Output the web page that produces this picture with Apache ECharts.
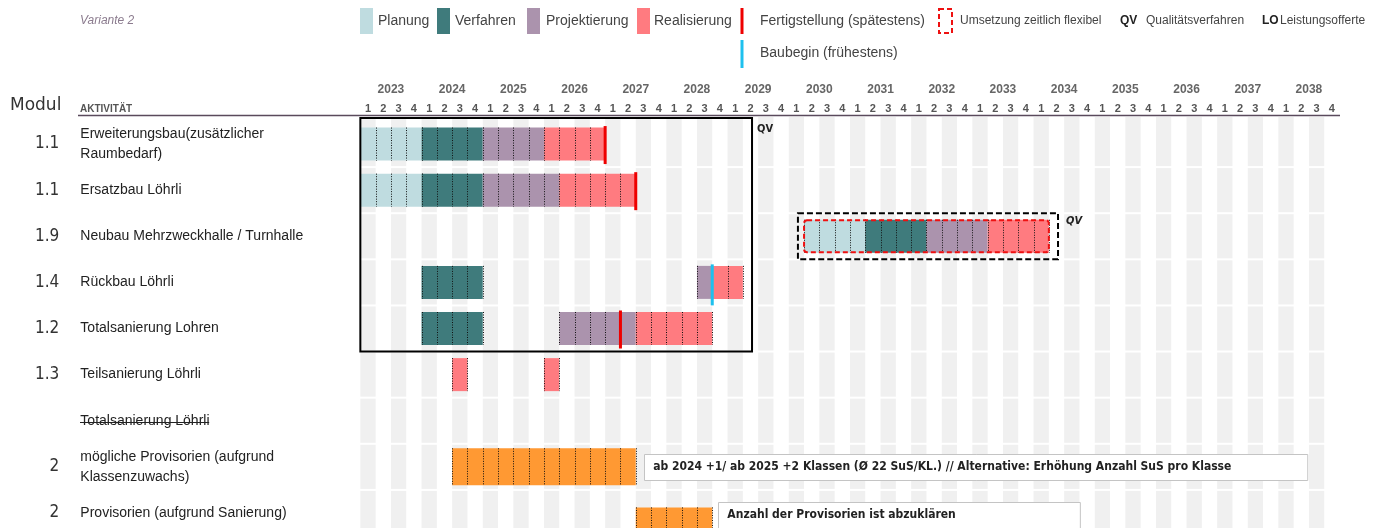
<!DOCTYPE html>
<html>
<head>
<meta charset="utf-8">
<script src="https://cdn.jsdelivr.net/npm/echarts@6/dist/echarts.min.js"></script>
<style>
html,body{margin:0;padding:0;background:#fff;overflow:hidden;}
/* etwas hoeher als das Fenster, damit die letzte Zeile wie im Original abgeschnitten wird */
#main{width:1386px;height:545px;}
</style>
</head>
<body>
<div id="main"></div>
<script>
/* Zeitachse */
var years = ['2023','2024','2025','2026','2027','2028','2029','2030','2031','2032','2033','2034','2035','2036','2037','2038'];
var quarterNames = ['1','2','3','4'];

/* Zeilen */
var modules = ['1.1','1.1','1.9','1.4','1.2','1.3','','2','2'];
var activities = [
    'Erweiterungsbau(zusätzlicher\nRaumbedarf)',
    'Ersatzbau Löhrli',
    'Neubau Mehrzweckhalle / Turnhalle',
    'Rückbau Löhrli',
    'Totalsanierung Lohren',
    'Teilsanierung Löhrli',
    'Totalsanierung Löhrli',
    'mögliche Provisorien (aufgrund\nKlassenzuwachs)',
    'Provisorien (aufgrund Sanierung)'
];
var struckRows = [6];

/* Phasen */
var phases = ['Planung','Verfahren','Projektierung','Realisierung','Provisorium'];

/* [zeile, phase, startquartal, anzahl quartale] */
var segments = [
    [0,0,0,4],[0,1,4,4],[0,2,8,4],[0,3,12,4],
    [1,0,0,4],[1,1,4,4],[1,2,8,5],[1,3,13,5],
    [2,0,29,4],[2,1,33,4],[2,2,37,4],[2,3,41,4],
    [3,1,4,4],[3,2,22,1],[3,3,23,2],
    [4,1,4,4],[4,2,13,5],[4,3,18,5],
    [5,3,6,1],[5,3,12,1],
    [7,4,6,12],
    [8,4,18,5]
];

/* [zeile, quartal, 0=Fertigstellung 1=Baubegin] */
var milestones = [[0,16,0],[1,18,0],[4,17,0],[3,23,1]];

/* Umsetzung zeitlich flexibel: [zeile, von, bis] */
var flexible = [[2,29,45]];

/* QV-Rahmen: [von, bis, zeile von, zeile bis, flexibel] */
var qvFrames = [[0,25.6,0,5,0],[28.6,45.6,2,3,1]];

/* Bemerkungen: [zeile, von, bis, text] */
var notes = [
    [7,18.55,61.9,'ab 2024 +1/ ab 2025 +2 Klassen (Ø 22 SuS/KL.) // Alternative: Erhöhung Anzahl SuS pro Klasse'],
    [8,23.4,47.05,'Anzahl der Provisorien ist abzuklären']
];

var colors = ['#bfdce0','#3f7b7c','#ab93ad','#ff7b80','#ff9933'];
var nQ = years.length * 4;
var quarterLabels = [];
years.forEach(function(){ quarterNames.forEach(function(q){ quarterLabels.push(q); }); });

// Hintergrund (graue Quartalsspalten)
var bgCells = [];
for (var r = 0; r < activities.length; r++) {
    for (var q = 0; q < nQ; q += 2) bgCells.push([q, r]);
}

function rowY(api, row) { return api.coord([0, row + 0.5])[1]; }
function qx(api, q) { return api.coord([q, 0])[0]; }

function renderBg(params, api) {
    var q = api.value(0), row = api.value(1);
    var y0 = api.coord([0, row])[1], y1 = api.coord([0, row + 1])[1];
    if (row === 0) y0 -= 5;
    var x0 = qx(api, q), x1 = qx(api, q + 1);
    return {type:'rect', shape:{x:x0, y:y0 + 1, width:x1 - x0, height:y1 - y0 - 2}, style:{fill:'#f0f0f0'}, silent:true};
}

function renderSeg(params, api) {
    var row = api.value(0), ph = api.value(1), s = api.value(2), n = api.value(3);
    var h = ph === 4 ? 37 : 33;
    var top = rowY(api, row) - h / 2 + (row === 8 ? 13 : 0);
    var x0 = qx(api, s), x1 = qx(api, s + n);
    var children = [{type:'rect', shape:{x:x0, y:top, width:x1 - x0, height:h}, style:{fill:colors[ph]}}];
    for (var k = 0; k <= n; k++) {
        var x = Math.round(qx(api, s + k)) + 0.5;
        children.push({type:'line', shape:{x1:x, y1:top, x2:x, y2:top + h}, style:{stroke:'#111', lineWidth:1, lineDash:[1,1.5]}});
    }
    return {type:'group', children:children};
}

function renderMilestone(params, api) {
    var row = api.value(0), q = api.value(1), t = api.value(2);
    var yc = rowY(api, row), x = qx(api, q);
    return {type:'line', shape:{x1:x, y1:yc - 18, x2:x, y2:yc + (t ? 23 : 20)},
        style:{stroke:t ? '#1ec0ee' : '#ee0000', lineWidth:3}};
}

function renderFlex(params, api) {
    var row = api.value(0), yc = rowY(api, row);
    var x0 = qx(api, api.value(1)), x1 = qx(api, api.value(2));
    return {type:'rect', shape:{x:x0, y:yc - 16, width:x1 - x0, height:32, r:3},
        style:{fill:null, stroke:'#ee1111', lineWidth:2, lineDash:[5,3]}};
}

function renderFrame(params, api) {
    var x0 = qx(api, api.value(0)), x1 = qx(api, api.value(1));
    var y0 = api.coord([0, api.value(2)])[1], y1 = api.coord([0, api.value(3)])[1];
    var flex = api.value(4);
    if (!flex) y0 -= 3;
    return {type:'group', children:[
        {type:'rect', shape:{x:x0, y:y0, width:x1 - x0, height:y1 - y0},
            style:{fill:null, stroke:'#000', lineWidth:2, lineDash:flex ? [6,3] : null}},
        {type:'text', style:{text:'QV', x:x1 + (flex ? 8 : 5), y:y0 + (flex ? 8 : 11), verticalAlign:'middle',
            fill:'#222', fontSize:11, fontWeight:'bold', fontStyle:flex ? 'italic' : 'normal',
            fontFamily:'"DejaVu Sans Condensed", sans-serif'}}
    ]};
}

function renderNote(params, api) {
    var row = api.value(0);
    var yc = rowY(api, row) + (row === 8 ? 2 : 0);
    var x0 = qx(api, api.value(1)), x1 = qx(api, api.value(2));
    return {type:'group', children:[
        {type:'rect', shape:{x:Math.round(x0) + 0.5, y:Math.round(yc - 13) + 0.5, width:x1 - x0, height:26},
            style:{fill:'#fff', stroke:'#c4c4c4', lineWidth:1}},
        {type:'text', style:{text:api.value(3), x:x0 + 9, y:yc, verticalAlign:'middle', fill:'#222',
            fontSize:12, fontWeight:'bold', fontFamily:'"DejaVu Sans Condensed", sans-serif'}}
    ]};
}

// Durchgestrichener Text
var measureCtx = document.createElement('canvas').getContext('2d');
measureCtx.font = '14px "Liberation Sans"';
function renderStrike(params, api) {
    var row = api.value(0), yc = Math.round(rowY(api, row)) + 0.5;
    var w = measureCtx.measureText(activities[row]).width;
    return {type:'line', shape:{x1:80, y1:yc + 1, x2:80 + w, y2:yc + 1}, style:{stroke:'#222', lineWidth:1}};
}

var legendText = function(x, y, text, size, extra) {
    var st = {text:text, fill:'#444', fontSize:size, fontFamily:'"Liberation Sans", Arial, sans-serif', verticalAlign:'middle'};
    for (var k in (extra || {})) st[k] = extra[k];
    return {type:'text', x:x, y:y, style:st};
};

var graphics = [
    legendText(80, 21, 'Variante 2', 12, {fill:'#8b7b8e', fontStyle:'italic'}),
    {type:'rect', shape:{x:360, y:8, width:13, height:26}, style:{fill:colors[0]}},
    legendText(378, 21, phases[0], 14),
    {type:'rect', shape:{x:437, y:8, width:13, height:26}, style:{fill:colors[1]}},
    legendText(455, 21, phases[1], 14),
    {type:'rect', shape:{x:527, y:8, width:13, height:26}, style:{fill:colors[2]}},
    legendText(546, 21, phases[2], 14),
    {type:'rect', shape:{x:637, y:8, width:13, height:26}, style:{fill:colors[3]}},
    legendText(654, 21, phases[3], 14),
    {type:'line', shape:{x1:742, y1:8, x2:742, y2:34}, style:{stroke:'#ee0000', lineWidth:3}},
    legendText(760, 21, 'Fertigstellung (spätestens)', 14),
    {type:'rect', shape:{x:939, y:9, width:13, height:24}, style:{fill:null, stroke:'#ee1111', lineWidth:2, lineDash:[5,3]}},
    legendText(960, 21, 'Umsetzung zeitlich flexibel', 12),
    legendText(1120, 21, 'QV', 12, {fill:'#222', fontWeight:'bold'}),
    legendText(1146, 21, 'Qualitätsverfahren', 12),
    legendText(1262, 21, 'LO', 12, {fill:'#222', fontWeight:'bold'}),
    legendText(1280, 21, 'Leistungsofferte', 12),
    {type:'line', shape:{x1:742, y1:40, x2:742, y2:68}, style:{stroke:'#1ec0ee', lineWidth:3}},
    legendText(760, 53, 'Baubegin (frühestens)', 14),
    {type:'text', x:10, y:106, style:{text:'Modul', fill:'#333', fontSize:17, fontFamily:'"DejaVu Sans", sans-serif', verticalAlign:'middle'}},
    {type:'text', x:80, y:109, style:{text:'AKTIVITÄT', fill:'#555', fontSize:10, fontWeight:'bold', fontFamily:'"Liberation Sans", Arial, sans-serif', verticalAlign:'middle'}},
    {type:'line', shape:{x1:78, y1:115.5, x2:1340, y2:115.5}, style:{stroke:'#5a4a5c', lineWidth:1.5}}
];

var myChart = echarts.init(document.getElementById('main'));
var option = {
    animation: false,
    backgroundColor: '#fff',
    graphic: graphics,
    grid: {left: 360.35, width: 979.2, top: 121, height: 415},
    xAxis: [
        {type:'value', min:0, max:nQ, show:false},
        {type:'category', data:quarterLabels, position:'top',
            axisLine:{show:false}, axisTick:{show:false},
            axisLabel:{interval:0, margin:7, fontSize:11, fontWeight:'bold', color:'#555', fontFamily:'"Liberation Sans", Arial, sans-serif'}},
        {type:'category', data:years, position:'top',
            axisLine:{show:false}, axisTick:{show:false},
            axisLabel:{interval:0, margin:25, fontSize:12, fontWeight:'bold', color:'#666', fontFamily:'"Liberation Sans", Arial, sans-serif'}}
    ],
    yAxis: [
        {type:'value', min:0, max:activities.length, inverse:true, show:false},
        {type:'category', data:activities, inverse:true, position:'left',
            axisLine:{show:false}, axisTick:{show:false},
            axisLabel:{interval:0, margin:280, align:'left', fontSize:14, lineHeight:20, color:'#222', fontFamily:'"Liberation Sans", Arial, sans-serif'}},
        {type:'category', data:modules, inverse:true, position:'left',
            axisLine:{show:false}, axisTick:{show:false},
            axisLabel:{interval:0, margin:301, align:'right', fontSize:17, color:'#333', fontFamily:'"DejaVu Sans Condensed", sans-serif'}}
    ],
    series: [
        {type:'custom', name:'bg', renderItem:renderBg, data:bgCells, silent:true},
        {type:'custom', name:'phasen', renderItem:renderSeg, data:segments},
        {type:'custom', name:'flexibel', renderItem:renderFlex, data:flexible},
        {type:'custom', name:'meilensteine', renderItem:renderMilestone, data:milestones},
        {type:'custom', name:'qv', renderItem:renderFrame, data:qvFrames},
        {type:'custom', name:'notizen', renderItem:renderNote, data:notes},
        {type:'custom', name:'strike', renderItem:renderStrike, data:struckRows.map(function(r){ return [r]; })}
    ]
};
myChart.setOption(option);
</script>
</body>
</html>
